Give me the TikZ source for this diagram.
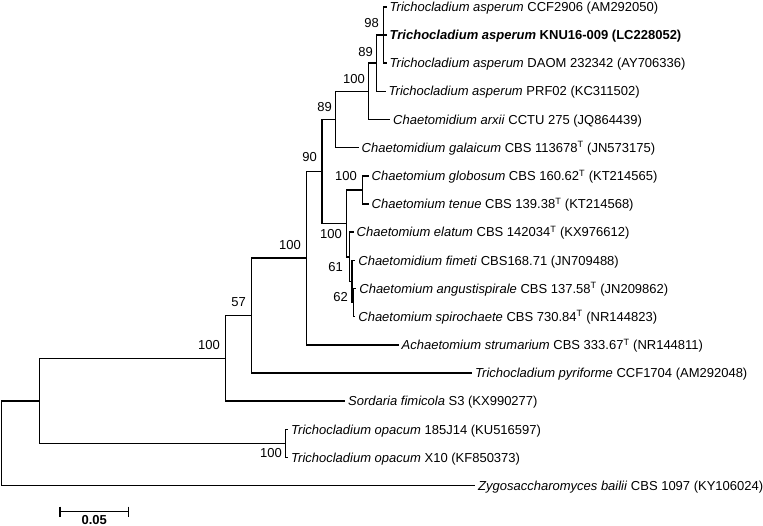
\documentclass[tikz,border=0pt]{standalone}
\usepackage{fontspec}
\setmainfont{Liberation Sans}
\begin{document}
\begin{tikzpicture}[x=1pt,y=-1pt,
  br/.style={line width=1.5pt},
  leaf/.style={anchor=west, inner xsep=3pt, inner ysep=0pt, text height=9.3pt, text depth=0pt, font=\fontsize{13}{15}\selectfont},
  bs/.style={anchor=east, inner sep=0pt, text height=9.3pt, text depth=0pt, font=\fontsize{13}{15}\selectfont}]
\useasboundingbox (0,0) rectangle (763,526);
% internal nodes
\coordinate (R) at (1.7,443.3);
\coordinate (A) at (39.3,400.9);
\coordinate (B) at (225.7,358.4);
\coordinate (C) at (251.3,315.6);
\coordinate (D) at (306.5,258.2);
\coordinate (E) at (322.0,171.4);
\coordinate (F) at (335.7,119.5);
\coordinate (H) at (368.3,91.3);
\coordinate (I) at (376.7,63.1);
\coordinate (J) at (383.3,35.0);
\coordinate (G) at (346.7,223.4);
\coordinate (K) at (362.3,189.9);
\coordinate (L) at (349.3,256.8);
\coordinate (M) at (352.0,281.5);
\coordinate (N) at (353.5,302.6);
\coordinate (O) at (285.3,443.5);
% leaf tips
\coordinate (t1) at (386.5,6.8);
\coordinate (t2) at (386.5,35.0);
\coordinate (t3) at (386.5,63.1);
\coordinate (t4) at (385.5,91.3);
\coordinate (t5) at (390.0,119.5);
\coordinate (t6) at (358.5,147.7);
\coordinate (t7) at (368.5,175.9);
\coordinate (t8) at (368.5,204.0);
\coordinate (t9) at (353.5,232.2);
\coordinate (t10) at (355.2,260.4);
\coordinate (t11) at (356.2,288.5);
\coordinate (t12) at (355.2,316.7);
\coordinate (t13) at (398.5,344.9);
\coordinate (t14) at (472.0,373.0);
\coordinate (t15) at (345.0,401.2);
\coordinate (t16) at (288.0,429.4);
\coordinate (t17) at (288.0,457.5);
\coordinate (t18) at (475.0,485.7);
% branches
\draw[br] (R) |- (A); \draw[br] (R) |- (t18);
\draw[br] (A) |- (B); \draw[br] (A) |- (O);
\draw[br] (O) |- (t16); \draw[br] (O) |- (t17);
\draw[br] (B) |- (C); \draw[br] (B) |- (t15);
\draw[br] (C) |- (D); \draw[br] (C) |- (t14);
\draw[br] (D) |- (E); \draw[br] (D) |- (t13);
\draw[br] (E) |- (F); \draw[br] (E) |- (G);
\draw[br] (F) |- (H); \draw[br] (F) |- (t6);
\draw[br] (H) |- (I); \draw[br] (H) |- (t5);
\draw[br] (I) |- (J); \draw[br] (I) |- (t4);
\draw[br] (J) |- (t1); \draw[br] (J) |- (t2); \draw[br] (J) |- (t3);
\draw[br] (G) |- (K); \draw[br] (G) |- (L);
\draw[br] (K) |- (t7); \draw[br] (K) |- (t8);
\draw[br] (L) |- (t9); \draw[br] (L) |- (M);
\draw[br] (M) |- (t10); \draw[br] (M) |- (N);
\draw[br] (N) |- (t11); \draw[br] (N) |- (t12);
% leaf labels
\node[leaf] (n1) at (t1) {\textit{Trichocladium asperum} CCF2906 (AM292050)};
\node[leaf] (n2) at (t2) {\textbf{\textit{Trichocladium asperum} KNU16-009 (LC228052)}};
\node[leaf] (n3) at (t3) {\textit{Trichocladium asperum} DAOM 232342 (AY706336)};
\node[leaf] (n4) at (t4) {\textit{Trichocladium asperum} PRF02 (KC311502)};
\node[leaf] (n5) at (t5) {\textit{Chaetomidium arxii} CCTU 275 (JQ864439)};
\node[leaf] (n6) at (t6) {\textit{Chaetomidium galaicum} CBS 113678\textsuperscript{T} (JN573175)};
\node[leaf] (n7) at (t7) {\textit{Chaetomium globosum} CBS 160.62\textsuperscript{T} (KT214565)};
\node[leaf] (n8) at (t8) {\textit{Chaetomium tenue} CBS 139.38\textsuperscript{T} (KT214568)};
\node[leaf] (n9) at (t9) {\textit{Chaetomium elatum} CBS 142034\textsuperscript{T} (KX976612)};
\node[leaf] (n10) at (t10) {\textit{Chaetomidium fimeti} CBS168.71 (JN709488)};
\node[leaf] (n11) at (t11) {\textit{Chaetomium angustispirale} CBS 137.58\textsuperscript{T} (JN209862)};
\node[leaf] (n12) at (t12) {\textit{Chaetomium spirochaete} CBS 730.84\textsuperscript{T} (NR144823)};
\node[leaf] (n13) at (t13) {\textit{Achaetomium strumarium} CBS 333.67\textsuperscript{T} (NR144811)};
\node[leaf] (n14) at (t14) {\textit{Trichocladium pyriforme} CCF1704 (AM292048)};
\node[leaf] (n15) at (t15) {\textit{Sordaria fimicola} S3 (KX990277)};
\node[leaf] (n16) at (t16) {\textit{Trichocladium opacum} 185J14 (KU516597)};
\node[leaf] (n17) at (t17) {\textit{Trichocladium opacum} X10 (KF850373)};
\node[leaf] (n18) at (t18) {\textit{Zygosaccharomyces bailii} CBS 1097 (KY106024)};
% bootstrap values
\node[bs] (bJ) at (379,23) {98};
\node[bs] (bI) at (373,51.7) {89};
\node[bs] (bH) at (365,79) {100};
\node[bs] (bF) at (332,106.7) {89};
\node[bs] (bE) at (317,157.3) {90};
\node[bs] (bK) at (357,176) {100};
\node[bs] (bG) at (342,234) {100};
\node[bs] (bD) at (301,245) {100};
\node[bs] (bM) at (343,267.3) {61};
\node[bs] (bN) at (348,297.3) {62};
\node[bs] (bC) at (246,302) {57};
\node[bs] (bB) at (220,345) {100};
\node[bs] (bO) at (282,453) {100};
% scale bar
\coordinate (s1) at (60,511.7);
\coordinate (s2) at (128.3,511.7);
\draw[br] (s1) -- (s2);
\draw[br] ([yshift=5pt]s1) -- ([yshift=-5pt]s1);
\draw[br] ([yshift=5pt]s2) -- ([yshift=-5pt]s2);
\node[inner sep=0pt, text height=9.3pt, text depth=0pt, font=\fontsize{13}{15}\selectfont\bfseries] (sl) at (94.2,519.8) {0.05};
\end{tikzpicture}
\end{document}
